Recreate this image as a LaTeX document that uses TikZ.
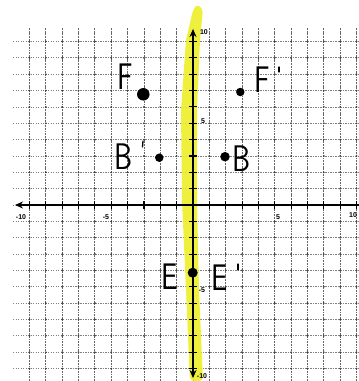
\documentclass[tikz,border=0pt]{standalone}
\usepackage{fontspec}
\setsansfont{Liberation Sans}
\usetikzlibrary{arrows.meta}
\definecolor{hilite}{RGB}{238,238,40}
\begin{document}
\begin{tikzpicture}[x=1pt,y=-1pt,
  gridv/.style={black!60,line width=0.85pt,dash pattern=on 1.8pt off 0.9pt},
  gridh/.style={black!50,line width=0.75pt,dash pattern=on 1.2pt off 1.3pt},
  axisline/.style={black,line width=2.2pt},
  tickmark/.style={black,line width=1.1pt},
  dotpt/.style={circle,fill=black,inner sep=0pt},
  letter/.style={font=\fontsize{37}{37}\fontfamily{lmss}\selectfont,inner sep=0pt,xscale=0.78},
  primemark/.style={black,line width=1.3pt,line cap=round},
  ticklabel/.style={font=\fontsize{7}{7}\sffamily\bfseries,inner sep=0pt}]
\useasboundingbox (0,0) rectangle (359,381);
\fill[white] (0,0) rectangle (359,381);
% grid
\foreach \i in {-10,...,10}{
  \draw[gridv] ({193+16.35*\i},28) -- ({193+16.35*\i},381);
  \draw[gridh] (13,{205-16.35*\i}) -- (359,{205-16.35*\i});
}
\foreach \i in {-10,...,10}{
  \foreach \j in {-10,...,10}{
    \fill[black!75] ({193+16.35*\i},{205-16.35*\j}) circle (1pt);
  }
}
% highlighter band
\fill[hilite,opacity=0.9,rounded corners=4pt]
  (197,4) -- (203,9) -- (200,40) -- (197,110) -- (197,200) -- (199,290) -- (203,381)
  -- (190,381) -- (186,290) -- (182,200) -- (181,110) -- (186,40) -- (193,10) -- cycle;
% axes
\coordinate (xl) at (15,205);
\coordinate (xr) at (359,205);
\coordinate (yt) at (193,29);
\coordinate (yb) at (193,378);
\draw[axisline,-{Stealth[length=8pt,width=7pt]}] (xr) -- (xl);
\draw[axisline,{Stealth[length=8pt,width=7pt]}-{Stealth[length=8pt,width=7pt]}] (yt) -- (yb);
\foreach \i in {-10,...,10}{
  \draw[tickmark] ({193+16.35*\i},201) -- ({193+16.35*\i},209);
  \draw[tickmark] (189,{205-16.35*\i}) -- (197,{205-16.35*\i});
}
% tick labels
\node[ticklabel] (xm10) at (21,217) {-10};
\node[ticklabel] (xm5) at (106,217) {-5};
\node[ticklabel] (xp5) at (278,217) {5};
\node[ticklabel] (xp10) at (353,215) {10};
\node[ticklabel] (yp10) at (204,32) {10};
\node[ticklabel] (yp5) at (203,121) {5};
\node[ticklabel] (ym5) at (202,290) {-5};
\node[ticklabel] (ym10) at (202,376.5) {-10};
% points
\node[dotpt,minimum size=12.5pt] (F) at (143.3,94.3) {};
\node[dotpt,minimum size=8.5pt] (Fp) at (240.3,92) {};
\node[dotpt,minimum size=8.5pt] (Bp) at (159.3,157.7) {};
\node[dotpt,minimum size=9.5pt] (B) at (225,156.7) {};
\node[dotpt,minimum size=10pt] (E) at (192.7,272.7) {};
% letters
\node[letter] (Flab) at (125,77) {F};
\node[letter] (Fplab) at (262,80) {F};
\draw[primemark] (279,67) -- (279,72);
\node[letter] (Bplab) at (124,157) {B};
\draw[primemark] (143,141) -- (142.5,147);
\node[letter] (Blab) at (242,159) {B};
\node[letter] (Elab) at (170,277) {E};
\node[letter] (Eplab) at (220,278) {E};
\draw[primemark] (238,264) -- (238,270);
\end{tikzpicture}
\end{document}
